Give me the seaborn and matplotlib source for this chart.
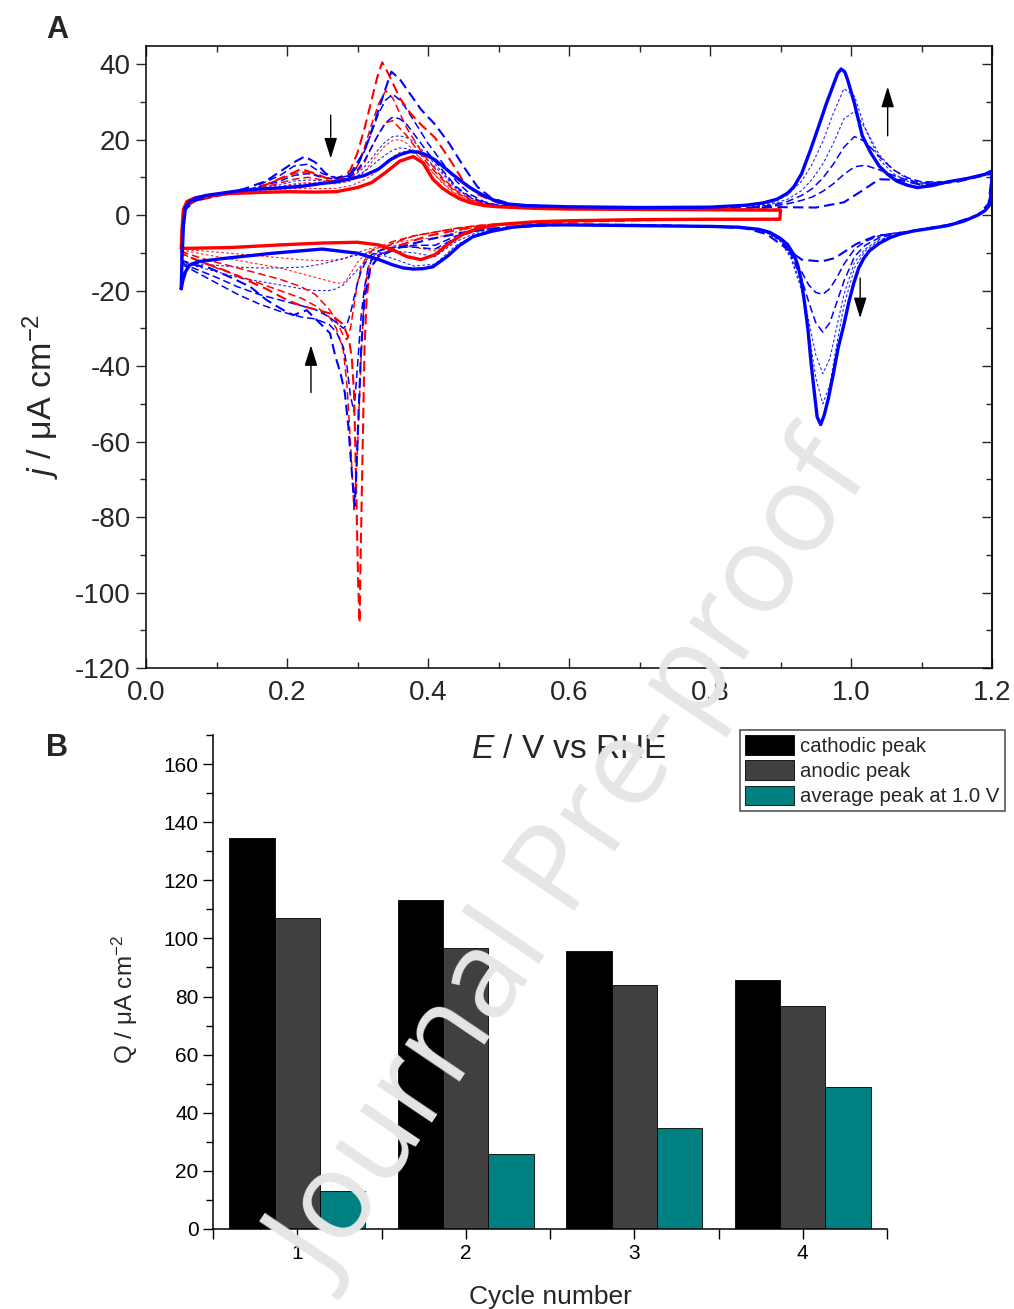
import matplotlib
matplotlib.use("Agg")
import matplotlib.pyplot as plt
from matplotlib.ticker import MultipleLocator
import pandas as pd
import seaborn as sns

sns.set_theme(style="ticks")
plt.rcParams["font.family"] = ["Liberation Sans", "DejaVu Sans"]
plt.rcParams["axes.unicode_minus"] = False
plt.rcParams["mathtext.fontset"] = "custom"
plt.rcParams["mathtext.rm"] = "Liberation Sans"
plt.rcParams["mathtext.it"] = "Liberation Sans:italic"
plt.rcParams["mathtext.bf"] = "Liberation Sans:bold"

# ---------------- Panel A: cyclic voltammograms (E / V vs RHE, j / uA cm-2) ----------------
# last cycle, 0.05-1.2 V window (blue, solid)
blue_last_ox_E = [0.050, 0.051, 0.053, 0.056, 0.062, 0.071, 0.085, 0.10, 0.13, 0.16, 0.19, 0.22, 0.25, 0.27,
                  0.29, 0.31, 0.33, 0.346, 0.36, 0.374, 0.386, 0.398, 0.41, 0.422, 0.434, 0.445, 0.457, 0.469,
                  0.481, 0.493, 0.51, 0.54, 0.60, 0.70, 0.80, 0.85, 0.875, 0.895, 0.91, 0.919, 0.93, 0.943,
                  0.955, 0.965, 0.975, 0.981, 0.986, 0.991, 0.995, 1.005, 1.016, 1.028, 1.04, 1.052, 1.065,
                  1.08, 1.094, 1.115, 1.137, 1.165, 1.19, 1.2]
blue_last_ox_j = [-19.5, -12, -3, 2.0, 3.6, 4.5, 5.2, 5.6, 6.4, 6.9, 7.2, 7.6, 8.4, 8.8,
                  9.6, 10.5, 12.2, 14.6, 16.0, 16.8, 16.7, 15.9, 14.6, 12.8, 10.9, 9.3, 7.6, 6.2,
                  5.0, 4.0, 3.0, 2.5, 2.2, 2.0, 2.1, 2.6, 3.2, 4.2, 5.8, 7.5, 11.0, 17.5,
                  24.0, 29.5, 34.5, 37.5, 38.7, 38.0, 36.0, 29.5, 21.0, 16.5, 13.0, 10.8, 9.0,
                  7.9, 7.3, 7.8, 8.8, 9.7, 10.8, 11.7]
blue_last_red_E = [1.2, 1.199, 1.196, 1.19, 1.18, 1.16, 1.137, 1.11, 1.089, 1.07, 1.055, 1.04, 1.026, 1.018,
                   1.011, 1.004, 0.997, 0.99, 0.982, 0.975, 0.968, 0.962, 0.957, 0.952, 0.948, 0.943, 0.939,
                   0.934, 0.929, 0.924, 0.919, 0.91, 0.90, 0.885, 0.87, 0.84, 0.80, 0.70, 0.60, 0.56, 0.52,
                   0.49, 0.464, 0.445, 0.427, 0.407, 0.393, 0.379, 0.365, 0.35, 0.332, 0.30, 0.25, 0.18,
                   0.11, 0.075, 0.062, 0.056, 0.052, 0.05]
blue_last_red_j = [11.7, 6.0, 2.5, 1.2, 0.0, -1.6, -2.8, -3.6, -4.2, -5.0, -6.0, -7.5, -9.5, -11.5,
                   -14.0, -18.0, -23.0, -29.0, -35.0, -42.0, -48.5, -53.0, -55.5, -53.5, -47.0, -38.5, -30.4,
                   -23.0, -16.8, -13.0, -10.5, -7.8, -6.2, -4.6, -3.8, -3.2, -3.0, -2.8, -2.6, -2.6, -3.2,
                   -4.3, -5.7, -8.0, -11.0, -13.7, -14.2, -14.3, -14.0, -13.2, -11.9, -10.1, -9.0, -10.1,
                   -11.5, -12.3, -13.2, -15.0, -17.5, -19.5]

# last cycle, 0.05-0.9 V window (red, solid)
red_last_ox_E = [0.05, 0.051, 0.053, 0.058, 0.07, 0.09, 0.12, 0.16, 0.20, 0.24, 0.27, 0.30, 0.32, 0.34, 0.36,
                 0.379, 0.393, 0.407, 0.42, 0.431, 0.445, 0.46, 0.48, 0.50, 0.55, 0.60, 0.70, 0.80, 0.90]
red_last_ox_j = [-8.8, -4.0, 1.5, 3.6, 4.6, 5.2, 5.7, 6.0, 6.2, 6.1, 6.2, 7.3, 8.6, 11.3, 14.3,
                 15.5, 13.8, 9.5, 7.2, 5.8, 4.3, 3.3, 2.5, 2.2, 1.8, 1.6, 1.5, 1.4, 1.3]
red_last_red_E = [0.90, 0.899, 0.85, 0.80, 0.70, 0.60, 0.55, 0.50, 0.47, 0.45, 0.43, 0.41, 0.39, 0.37, 0.35,
                  0.33, 0.30, 0.25, 0.19, 0.12, 0.06, 0.05]
red_last_red_j = [1.3, -1.1, -1.1, -1.1, -1.2, -1.5, -1.8, -2.5, -3.6, -5.0, -7.5, -10.5, -11.8, -11.0, -9.2,
                  -7.9, -7.2, -7.4, -7.9, -8.6, -8.8, -8.8]

# first cycle, 0.05-0.9 V window (red, dashed)
red_first_ox_E = [0.05, 0.052, 0.056, 0.07, 0.10, 0.14, 0.17, 0.20, 0.22, 0.24, 0.26, 0.28, 0.29, 0.30, 0.31,
                  0.32, 0.328, 0.335, 0.345, 0.36, 0.375, 0.39, 0.41, 0.43, 0.45, 0.47, 0.50, 0.55, 0.65,
                  0.75, 0.90]
red_first_ox_j = [-10.0, -2.0, 2.0, 3.8, 5.0, 6.5, 8.0, 10.5, 12.2, 11.0, 9.5, 10.0, 12.0, 16.5, 23.0,
                  30.5, 36.5, 40.5, 37.0, 31.0, 27.0, 24.0, 20.5, 15.0, 9.0, 5.5, 3.2, 2.2, 1.8,
                  1.6, 1.5]
red_first_red_E = [0.90, 0.899, 0.75, 0.60, 0.50, 0.45, 0.40, 0.36, 0.33, 0.318, 0.313, 0.310, 0.308, 0.306,
                   0.304, 0.303, 0.301, 0.299, 0.297, 0.295, 0.292, 0.288, 0.28, 0.26, 0.24, 0.22, 0.20,
                   0.17, 0.14, 0.11, 0.08, 0.06, 0.05]
red_first_red_j = [1.5, -1.0, -1.2, -1.8, -2.6, -3.6, -5.5, -8.0, -11.0, -14.0, -22.0, -35.0, -55.0, -75.0,
                   -95.0, -108.0, -98.0, -80.0, -62.0, -47.0, -38.0, -33.0, -29.0, -26.0, -25.0, -24.0, -22.5,
                   -19.5, -17.0, -14.5, -12.5, -11.0, -10.0]

# first cycle, 0.05-1.2 V window (blue, dashed)
blue_first_ox_E = [0.05, 0.052, 0.056, 0.07, 0.10, 0.14, 0.17, 0.19, 0.21, 0.225, 0.24, 0.255, 0.27, 0.29,
                   0.31, 0.325, 0.337, 0.348, 0.36, 0.375, 0.39, 0.41, 0.43, 0.45, 0.47, 0.49, 0.52, 0.60,
                   0.70, 0.80, 0.85, 0.90, 0.95, 0.99, 1.016, 1.04, 1.07, 1.10, 1.15, 1.20]
blue_first_ox_j = [-12.0, -3.0, 1.5, 3.8, 5.2, 7.0, 9.0, 11.5, 14.0, 15.5, 14.0, 11.0, 9.8, 11.0,
                   17.0, 25.0, 32.0, 38.0, 36.0, 32.0, 28.0, 24.0, 19.0, 13.0, 7.5, 4.5, 2.8, 2.1,
                   2.0, 2.0, 2.0, 2.1, 2.0, 3.4, 6.5, 9.5, 9.3, 8.0, 8.8, 11.0]
blue_first_red_E = [1.20, 1.195, 1.18, 1.14, 1.10, 1.06, 1.035, 1.007, 0.977, 0.958, 0.93, 0.90, 0.88, 0.85,
                    0.80, 0.70, 0.60, 0.50, 0.45, 0.40, 0.36, 0.33, 0.318, 0.31, 0.305, 0.301, 0.298, 0.296,
                    0.294, 0.291, 0.287, 0.282, 0.276, 0.268, 0.261, 0.247, 0.228, 0.209, 0.195, 0.171,
                    0.148, 0.12, 0.09, 0.065, 0.05]
blue_first_red_j = [11.0, 3.0, 0.0, -2.5, -3.8, -5.0, -5.5, -7.7, -11.4, -12.3, -11.8, -7.7, -5.0, -3.5,
                    -3.0, -2.6, -2.5, -3.4, -4.6, -6.5, -8.5, -11.0, -14.0, -22.0, -36.0, -55.0, -70.0, -77.0,
                    -73.0, -66.0, -56.0, -47.0, -42.0, -37.0, -31.3, -28.7, -25.2, -26.5, -25.2, -22.5,
                    -19.0, -16.5, -14.0, -13.0, -12.0]

# intermediate cycles, anodic sweep 0.16-0.53 V
E_ano_lo = [0.16, 0.19, 0.21, 0.23, 0.25, 0.27, 0.29, 0.30, 0.31, 0.32, 0.33, 0.34, 0.35, 0.36, 0.37, 0.38,
            0.39, 0.40, 0.42, 0.44, 0.46, 0.48, 0.50, 0.53]
red_c2_ano = [7.5, 9.5, 11.0, 11.5, 10.0, 9.5, 10.5, 13.0, 18.0, 24.0, 29.5, 33.0, 31.0, 27.0, 23.0, 20.0,
              17.0, 14.5, 10.0, 6.5, 4.2, 3.0, 2.4, 2.0]
red_c3_ano = [7.0, 8.5, 9.5, 10.0, 9.3, 9.0, 9.8, 11.5, 14.0, 18.0, 21.5, 24.5, 25.0, 23.0, 21.0, 18.5,
              16.0, 13.5, 9.5, 6.0, 4.0, 2.9, 2.3, 1.9]
red_c4_ano = [6.8, 7.5, 8.3, 8.6, 8.4, 8.3, 9.0, 10.0, 11.5, 14.0, 16.5, 18.5, 19.8, 20.0, 19.0, 17.0,
              15.0, 12.5, 8.8, 5.5, 3.8, 2.8, 2.2, 1.9]
red_c6_ano = [6.5, 6.8, 7.0, 7.1, 7.0, 7.1, 7.8, 8.5, 9.4, 10.5, 12.0, 13.8, 15.5, 16.6, 17.0, 16.5,
              15.0, 12.8, 8.5, 5.3, 3.6, 2.7, 2.2, 1.8]
blue_c2_ano = [8.0, 10.5, 13.0, 13.5, 11.0, 9.8, 10.5, 13.0, 17.0, 22.0, 27.0, 30.5, 32.0, 30.5, 28.0, 25.0,
               22.0, 19.0, 14.0, 9.0, 5.5, 3.5, 2.6, 2.2]
blue_c3_ano = [7.5, 9.0, 10.5, 11.0, 10.0, 9.5, 10.3, 12.0, 14.5, 18.0, 21.5, 24.5, 26.0, 25.5, 24.0, 21.5,
               19.0, 16.5, 12.0, 7.5, 4.8, 3.3, 2.5, 2.2]
blue_c4_ano = [7.3, 8.0, 9.0, 9.3, 9.0, 9.2, 10.0, 11.2, 12.8, 15.0, 17.5, 19.5, 20.8, 21.0, 20.5, 19.5,
               17.5, 15.5, 11.5, 7.3, 4.6, 3.2, 2.5, 2.1]
blue_c6_ano = [7.1, 7.5, 8.0, 8.3, 8.5, 8.8, 9.6, 10.5, 11.6, 13.0, 14.6, 16.0, 17.2, 17.8, 17.6, 17.0,
               16.0, 14.5, 11.0, 7.0, 4.5, 3.1, 2.5, 2.1]

# intermediate cycles, cathodic sweep 0.05-0.50 V
E_cat_lo = [0.05, 0.06, 0.08, 0.10, 0.13, 0.16, 0.19, 0.22, 0.24, 0.26, 0.27, 0.28, 0.285, 0.29, 0.295,
            0.30, 0.305, 0.31, 0.315, 0.32, 0.33, 0.35, 0.38, 0.41, 0.44, 0.47, 0.50]
red_c2_cat = [-10.0, -11.0, -12.5, -14.0, -16.0, -18.0, -20.0, -22.0, -24.0, -27.0, -30.0, -36.0, -45.0,
              -60.0, -78.0, -62.0, -38.0, -20.0, -14.0, -11.5, -9.5, -7.5, -5.5, -4.5, -3.5, -2.8, -2.3]
red_c3_cat = [-9.5, -10.3, -11.5, -12.5, -14.0, -15.5, -17.0, -19.0, -21.0, -25.0, -28.0, -32.0, -33.0,
              -30.0, -24.0, -18.0, -14.0, -12.0, -10.5, -9.5, -8.5, -7.0, -5.5, -4.5, -3.5, -2.8, -2.3]
red_c4_cat = [-9.2, -9.6, -10.3, -11.0, -12.0, -13.0, -14.0, -15.5, -16.5, -17.5, -18.0, -18.0, -17.0,
              -15.5, -14.0, -12.5, -11.5, -10.5, -9.8, -9.2, -8.7, -7.5, -6.5, -6.0, -4.5, -3.0, -2.4]
red_c6_cat = [-9.0, -9.2, -9.5, -9.8, -10.3, -10.8, -11.3, -11.8, -12.0, -12.0, -11.8, -11.5, -11.2,
              -10.8, -10.4, -10.0, -9.6, -9.3, -9.0, -8.8, -8.5, -8.0, -8.5, -9.5, -6.0, -3.5, -2.5]
blue_c2_cat = [-13.0, -14.0, -16.0, -18.0, -21.0, -23.5, -25.5, -27.0, -27.5, -29.0, -31.0, -35.0, -40.0,
               -48.0, -52.0, -40.0, -27.0, -19.0, -14.0, -12.0, -10.5, -9.0, -8.0, -8.0, -5.5, -4.0, -3.4]
blue_c3_cat = [-12.5, -13.5, -15.0, -16.5, -19.0, -21.0, -22.5, -24.0, -25.0, -27.0, -28.5, -30.0, -29.0,
               -26.0, -22.0, -18.0, -15.0, -13.0, -11.5, -10.5, -9.5, -8.5, -8.5, -9.0, -6.0, -4.0, -3.4]
blue_c4_cat = [-12.4, -13.0, -14.0, -15.0, -16.5, -17.5, -18.5, -19.5, -20.0, -20.0, -19.5, -18.5, -17.5,
               -16.5, -15.5, -14.5, -13.5, -12.5, -11.5, -10.8, -10.0, -9.5, -10.0, -11.0, -7.0, -4.5, -3.4]
blue_c6_cat = [-12.4, -12.6, -13.0, -13.3, -13.8, -14.0, -14.0, -13.8, -13.3, -12.5, -12.0, -11.6, -11.3,
               -11.0, -10.8, -10.6, -10.4, -10.2, -10.0, -10.0, -10.3, -11.5, -13.5, -13.0, -8.0, -5.0, -3.5]

# intermediate cycles around the 1.0 V couple
E_ano_hi = [0.86, 0.89, 0.91, 0.93, 0.945, 0.96, 0.975, 0.99, 1.005, 1.02, 1.04, 1.06, 1.08, 1.10, 1.13]
blue_c2_ano_hi = [2.0, 2.4, 3.0, 3.9, 4.8, 6.3, 8.3, 10.8, 12.8, 13.2, 12.0, 10.5, 9.3, 8.5, 8.7]
blue_c3_ano_hi = [2.0, 2.7, 3.6, 5.2, 7.0, 9.8, 13.5, 18.0, 20.8, 19.5, 15.5, 12.0, 9.9, 8.8, 8.8]
blue_c4_ano_hi = [2.1, 3.0, 4.2, 6.5, 9.5, 13.5, 19.0, 25.5, 27.5, 23.0, 16.0, 12.0, 9.6, 8.4, 8.7]
blue_c6_ano_hi = [2.2, 3.4, 5.3, 9.0, 13.5, 19.5, 27.0, 33.5, 31.5, 23.0, 14.8, 11.0, 9.0, 8.0, 8.6]
E_cat_hi = [0.86, 0.88, 0.90, 0.915, 0.93, 0.94, 0.95, 0.96, 0.97, 0.98, 0.99, 1.005, 1.02, 1.04, 1.07]
blue_c2_cat_hi = [-3.5, -4.5, -6.5, -10.0, -15.0, -18.5, -20.5, -21.0, -19.5, -16.5, -13.0, -9.0, -7.0, -5.5, -4.5]
blue_c3_cat_hi = [-3.5, -4.5, -6.5, -10.5, -17.0, -23.0, -28.5, -31.0, -28.5, -23.0, -17.5, -11.0, -8.0, -6.0, -4.7]
blue_c4_cat_hi = [-3.5, -4.5, -6.8, -11.0, -19.0, -28.0, -37.0, -42.0, -38.0, -29.5, -21.0, -12.5, -9.0, -6.5, -5.0]
blue_c6_cat_hi = [-3.5, -4.5, -7.0, -11.5, -20.0, -31.0, -43.0, -50.0, -45.0, -34.0, -24.0, -14.0, -9.5, -6.8, -5.2]

# ---------------- Panel B: charge per cycle ----------------
cycles = ["1", "2", "3", "4"]
cathodic_peak = [134.6, 113.3, 95.8, 85.8]
anodic_peak = [107.1, 96.8, 84.1, 76.9]
average_peak_1V = [13.0, 25.7, 34.7, 48.7]
series_names = ["cathodic peak", "anodic peak", "average peak at 1.0 V"]
bar_colors = ["#000000", "#404040", "#008080"]

RED = "#ff0000"
BLUE = "#0000ff"

W, H = 1014, 1309
fig = plt.figure(figsize=(W / 100, H / 100), dpi=100)
axA = fig.add_axes([146 / W, 1 - 668 / H, (992 - 146) / W, (668 - 46) / H])
axB = fig.add_axes([213 / W, 1 - 1229 / H, (887 - 213) / W, (1229 - 735) / H])
axB.set_facecolor("none")


def trace(ax, E, j, color, lw, dashes=None, alpha=1.0, z=2):
    sns.lineplot(x=E, y=j, sort=False, estimator=None, color=color, linewidth=lw,
                 alpha=alpha, ax=ax, zorder=z)
    line = ax.lines[-1]
    if dashes is not None:
        line.set_dashes(dashes)
    return line


DOT = [2.5, 2.0]
DASH = [5.0, 2.5]

# later (thin dotted) cycles
for col, ano, cat in [(RED, red_c6_ano, red_c6_cat), (RED, red_c4_ano, red_c4_cat),
                      (BLUE, blue_c6_ano, blue_c6_cat), (BLUE, blue_c4_ano, blue_c4_cat)]:
    trace(axA, E_ano_lo, ano, col, 0.8, DOT, 0.85, 1)
    trace(axA, E_cat_lo, cat, col, 0.8, DOT, 0.85, 1)
for ano, cat in [(blue_c6_ano_hi, blue_c6_cat_hi), (blue_c4_ano_hi, blue_c4_cat_hi)]:
    trace(axA, E_ano_hi, ano, BLUE, 0.8, DOT, 0.85, 1)
    trace(axA, E_cat_hi, cat, BLUE, 0.8, DOT, 0.85, 1)

# early (dashed) cycles
for col, ano, cat in [(RED, red_c3_ano, red_c3_cat), (RED, red_c2_ano, red_c2_cat),
                      (BLUE, blue_c3_ano, blue_c3_cat), (BLUE, blue_c2_ano, blue_c2_cat)]:
    trace(axA, E_ano_lo, ano, col, 1.1, DASH, 1.0, 2)
    trace(axA, E_cat_lo, cat, col, 1.1, DASH, 1.0, 2)
for ano, cat in [(blue_c3_ano_hi, blue_c3_cat_hi), (blue_c2_ano_hi, blue_c2_cat_hi)]:
    trace(axA, E_ano_hi, ano, BLUE, 1.1, DASH, 1.0, 2)
    trace(axA, E_cat_hi, cat, BLUE, 1.1, DASH, 1.0, 2)

trace(axA, red_first_ox_E + red_first_red_E, red_first_ox_j + red_first_red_j, RED, 1.5, DASH, 1.0, 3)
trace(axA, blue_first_ox_E + blue_first_red_E, blue_first_ox_j + blue_first_red_j, BLUE, 1.5, DASH, 1.0, 3)

# final (solid) cycles
trace(axA, red_last_ox_E + red_last_red_E, red_last_ox_j + red_last_red_j, RED, 2.4, None, 1.0, 4)
trace(axA, blue_last_ox_E + blue_last_red_E, blue_last_ox_j + blue_last_red_j, BLUE, 2.4, None, 1.0, 5)

# arrows marking the evolution with cycling
arrow_kw = dict(arrowstyle="-|>,head_length=0.9,head_width=0.28", color="black", lw=1.0,
                shrinkA=0, shrinkB=0, mutation_scale=14)
for x0, y0, y1 in [(0.262, 26.5, 15.0), (0.234, -47.0, -34.5), (1.052, 21.0, 34.0), (1.013, -16.7, -27.3)]:
    axA.annotate("", xy=(x0, y1), xytext=(x0, y0), arrowprops=arrow_kw, zorder=6)

axA.set_xlim(0.0, 1.2)
axA.set_ylim(-120, 44.8)
axA.xaxis.set_major_locator(MultipleLocator(0.2))
axA.xaxis.set_minor_locator(MultipleLocator(0.1))
axA.yaxis.set_major_locator(MultipleLocator(20))
axA.yaxis.set_minor_locator(MultipleLocator(10))
for s in axA.spines.values():
    s.set_linewidth(1.1)
    s.set_color("black")
axA.tick_params(axis="x", which="both", direction="in", top=True, bottom=True, width=1.0, labelsize=20, pad=9)
axA.tick_params(axis="x", which="major", length=7)
axA.tick_params(axis="x", which="minor", length=4)
axA.tick_params(axis="y", which="both", direction="out", left=True, right=False, width=1.0, labelsize=20, pad=4)
axA.tick_params(axis="y", which="major", length=7)
axA.tick_params(axis="y", which="minor", length=4)
rA = axA.secondary_yaxis("right")
rA.yaxis.set_major_locator(MultipleLocator(20))
rA.yaxis.set_minor_locator(MultipleLocator(10))
rA.tick_params(axis="y", which="both", direction="in", labelright=False, width=1.0)
rA.tick_params(axis="y", which="major", length=7)
rA.tick_params(axis="y", which="minor", length=4)
rA.spines["right"].set_linewidth(1.1)
axA.set_xlabel(r"$E$ / V vs RHE", fontsize=24, labelpad=20)
axA.set_ylabel(r"$j$ / μA cm$^{-2}$", fontsize=24.5)
axA.yaxis.set_label_coords(-0.099, 0.437)

# ---------------- Panel B ----------------
df = pd.DataFrame({
    "cycle": cycles * 3,
    "Q": cathodic_peak + anodic_peak + average_peak_1V,
    "series": [series_names[0]] * 4 + [series_names[1]] * 4 + [series_names[2]] * 4,
})
sns.barplot(data=df, x="cycle", y="Q", hue="series", hue_order=series_names, palette=bar_colors,
            saturation=1, width=0.81, edgecolor="black", linewidth=0.6, ax=axB)
axB.set_xlim(-0.5, 3.5)
axB.set_ylim(0, 170)
axB.yaxis.set_major_locator(MultipleLocator(20))
axB.yaxis.set_minor_locator(MultipleLocator(10))
axB.set_xticks([-0.5, 0.5, 1.5, 2.5, 3.5], minor=True)
sns.despine(ax=axB)
for s in ["left", "bottom"]:
    axB.spines[s].set_linewidth(1.1)
    axB.spines[s].set_color("black")
axB.tick_params(axis="both", which="both", direction="out", width=1.0, labelsize=15, colors="black")
axB.tick_params(axis="both", which="major", length=7)
axB.tick_params(axis="both", which="minor", length=5)
axB.tick_params(axis="x", which="minor", length=7)
axB.set_xlabel("Cycle number", fontsize=19, labelpad=16)
axB.set_ylabel(r"Q / μA cm$^{-2}$", fontsize=17.5)
axB.yaxis.set_label_coords(-0.108, 0.465)

handles, labels = axB.get_legend_handles_labels()
axB.legend(handles, labels, loc="upper left", bbox_to_anchor=(740 / W, 1 - 730 / H),
           bbox_transform=fig.transFigure, frameon=True, fancybox=False, edgecolor="#555555",
           fontsize=14.7, handlelength=2.4, handleheight=1.1, handletextpad=0.3, labelspacing=0.22,
           borderpad=0.25, borderaxespad=0.0, framealpha=1)
axB.get_legend().get_frame().set_linewidth(1.2)

# panel letters and watermark
fig.text(57 / W, 1 - 30 / H, "A", fontsize=22, fontweight="bold", ha="center", va="center")
fig.text(57 / W, 1 - 748 / H, "B", fontsize=22, fontweight="bold", ha="center", va="center")
fig.text(576 / W, 1 - 865 / H, "Journal Pre-proof", rotation=56, rotation_mode="anchor",
         fontsize=87.5, color="#e6e6e6", family=["Open Sans", "DejaVu Sans"], ha="center", va="center",
         zorder=50)

fig.savefig("out.png", dpi=100)
